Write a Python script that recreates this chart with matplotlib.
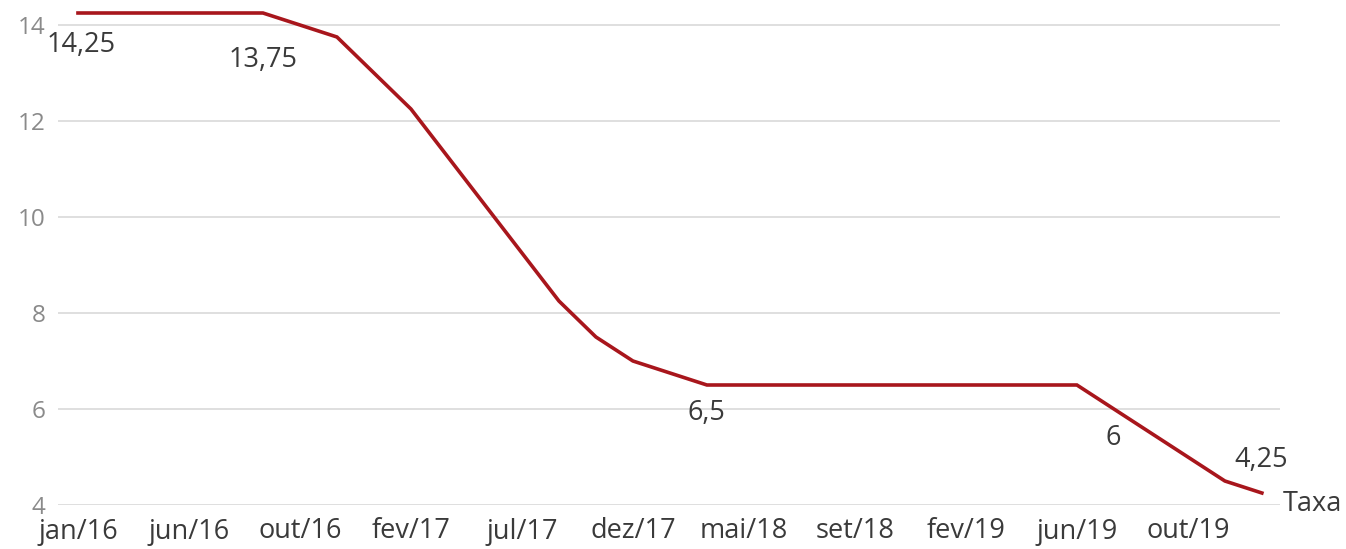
import matplotlib
matplotlib.use("Agg")
import matplotlib.pyplot as plt

# reuniões do Copom, jan/16 a fev/20
meses = ["jan/16", "mar/16", "abr/16", "jun/16", "jul/16", "ago/16", "out/16", "nov/16",
         "jan/17", "fev/17", "abr/17", "mai/17", "jul/17", "set/17", "out/17", "dez/17",
         "fev/18", "mar/18", "mai/18", "jun/18", "ago/18", "set/18", "out/18", "dez/18",
         "fev/19", "mar/19", "mai/19", "jun/19", "jul/19", "set/19", "out/19", "dez/19",
         "fev/20"]
taxa = [14.25, 14.25, 14.25, 14.25, 14.25, 14.25, 14.0, 13.75,
        13.0, 12.25, 11.25, 10.25, 9.25, 8.25, 7.5, 7.0,
        6.75, 6.5, 6.5, 6.5, 6.5, 6.5, 6.5, 6.5,
        6.5, 6.5, 6.5, 6.5, 6.0, 5.5, 5.0, 4.5,
        4.25]

y_ticks = [4, 6, 8, 10, 12, 14]

# rótulos de valor: (índice, texto, deslocamento em px)
rotulos = [(0, "14,25", (3, -32)),
           (5, "13,75", (0, -47)),
           (17, "6,5", (0, -28)),
           (28, "6", (-1, -29)),
           (32, "4,25", (-1, 33))]

plt.rcParams['font.family'] = ['Open Sans', 'DejaVu Sans']

fig = plt.figure(figsize=(13.46, 5.49), dpi=100)
ax = fig.add_axes([58 / 1346, 44 / 549, 1222 / 1346, 494.4 / 549])

x = list(range(len(taxa)))
ax.plot(x, taxa, color="#a8161c", lw=2.6, solid_joinstyle="miter", clip_on=False, zorder=3)

ax.set_xlim(-0.54, len(taxa) - 1 + 0.49)
ax.set_ylim(4, 14.3)

ax.set_yticks(y_ticks)
ax.set_yticklabels([str(v) for v in y_ticks])
ax.set_xticks(x[::3])
ax.set_xticklabels(meses[::3])

ax.grid(axis="y", color="#d9d9d9", lw=1.2)
ax.set_axisbelow(True)
for s in ax.spines.values():
    s.set_visible(False)

ax.tick_params(axis="y", length=0, pad=9, labelsize=17.5, labelcolor="#8a8a8a")
ax.tick_params(axis="x", length=0, pad=9, labelsize=19.5, labelcolor="#3a3a3a")

for i, txt, (dx, dy) in rotulos:
    ax.annotate(txt, (i, taxa[i]), xytext=(dx, dy), textcoords="offset pixels",
                ha="center", va="center", fontsize=19.5, color="#3a3a3a", annotation_clip=False)

# nome da série no fim da linha
ax.annotate("Taxa", (x[-1], taxa[-1]), xytext=(21, -11), textcoords="offset pixels",
            ha="left", va="center", fontsize=19.5, color="#3a3a3a", annotation_clip=False)

fig.savefig("out.png", dpi=100)
